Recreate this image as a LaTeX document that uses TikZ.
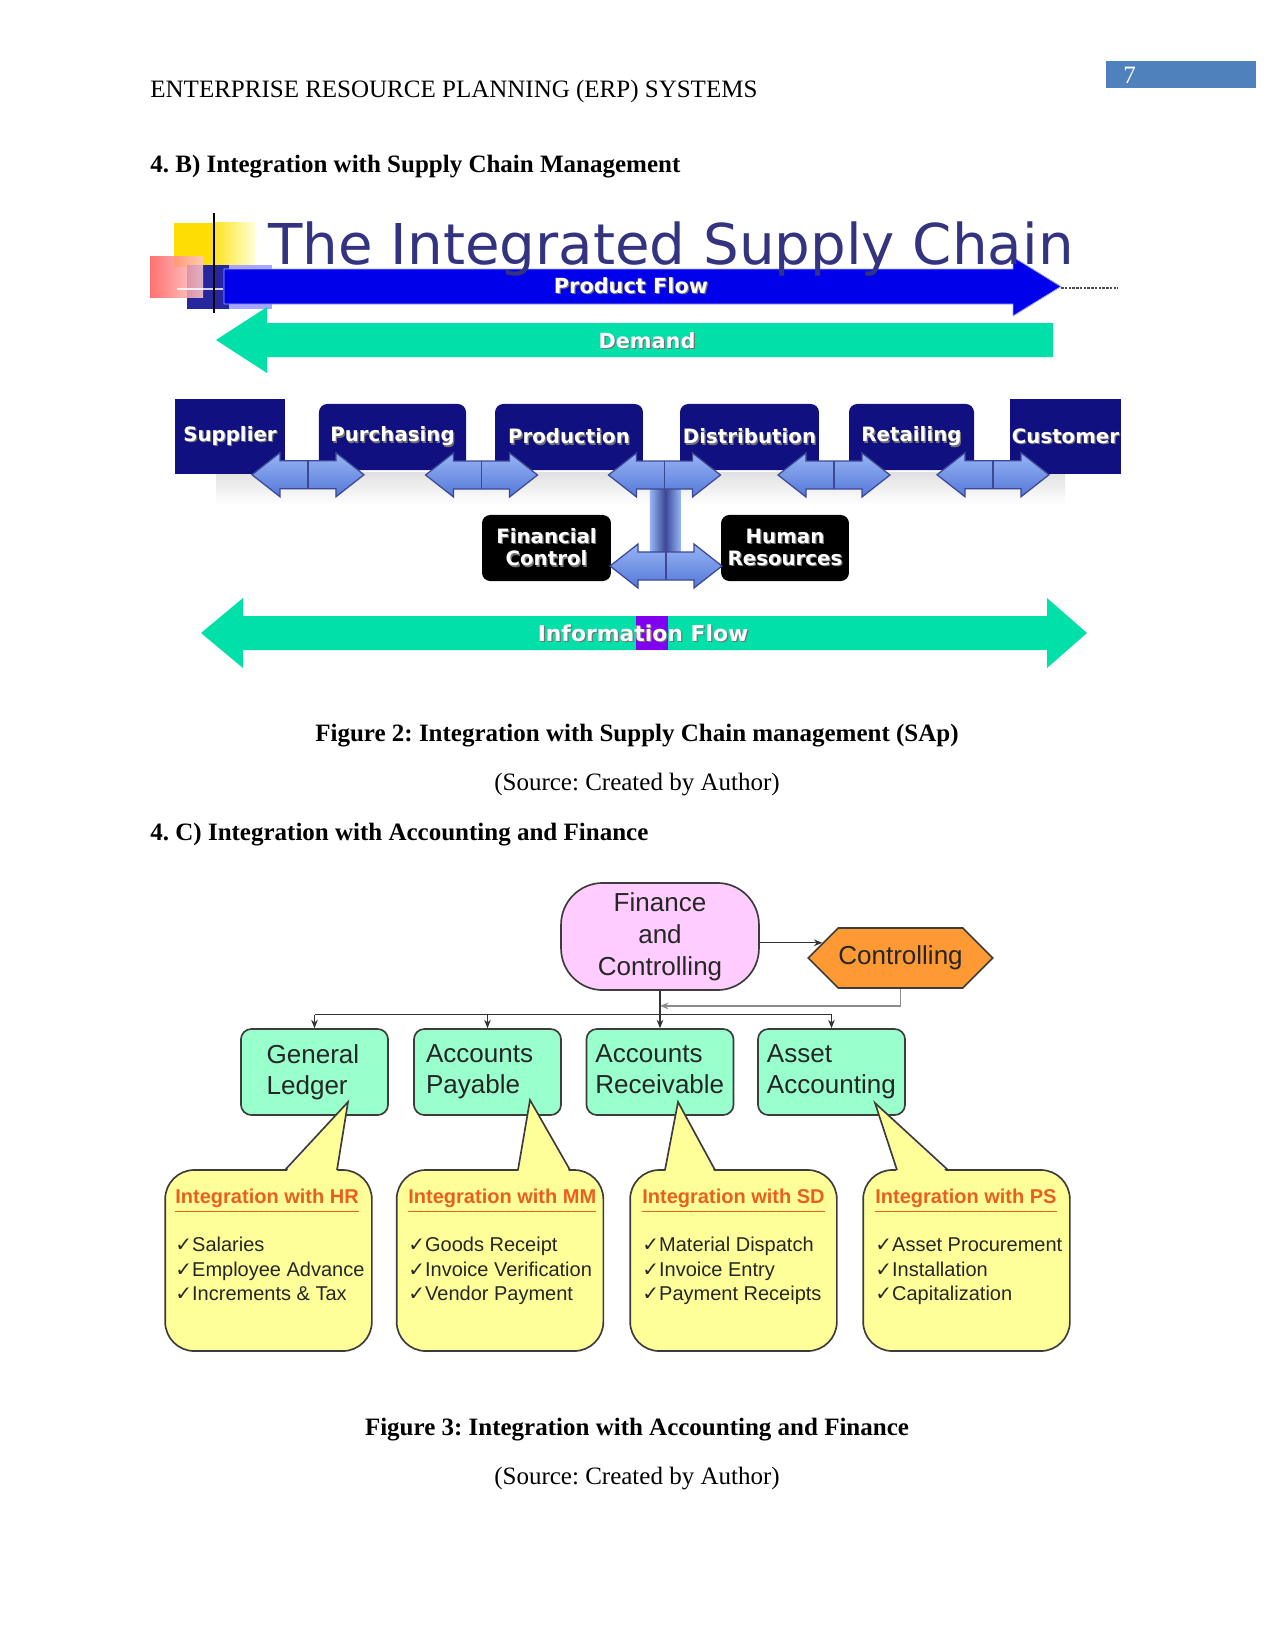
\documentclass[tikz,border=0pt]{standalone}
\usepackage{fontspec}
\setmainfont{Liberation Serif}
\newfontfamily\arialfont{Liberation Sans}
\newfontfamily\verdfont{DejaVu Sans}
\usetikzlibrary{arrows.meta,calc,shapes.symbols}

\definecolor{pagebox}{RGB}{79,129,189}
\definecolor{titleblue}{RGB}{51,51,128}
\definecolor{navybox}{RGB}{16,16,128}
\definecolor{flowblue}{RGB}{0,0,235}
\definecolor{flowteal}{RGB}{0,224,168}
\definecolor{infopurple}{RGB}{130,0,240}
\definecolor{arrowtop}{RGB}{150,180,245}
\definecolor{arrowbot}{RGB}{85,120,215}
\definecolor{arrowedge}{RGB}{60,72,150}
\definecolor{finpink}{RGB}{255,204,255}
\definecolor{ctrlorange}{RGB}{255,153,51}
\definecolor{glgreen}{RGB}{153,255,204}
\definecolor{callyellow}{RGB}{255,255,153}
\definecolor{callhead}{RGB}{235,95,30}
\definecolor{edgegray}{RGB}{60,60,60}

\newcommand{\chk}{{\verdfont\symbol{"2713}}}
\newcommand{\shtxt}[1]{\rlap{\kern0.6pt\raisebox{-0.6pt}{\textcolor{black!55}{#1}}}#1}
\newcommand{\blockarrow}[1]{%
  \path[blockarr] ($(#1)+(-56,0)$) -- ++(28,-22) -- ++(0,8) -- ++(56,0) -- ++(0,-8)
    -- ++(28,22) -- ++(-28,22) -- ++(0,-8) -- ++(-56,0) -- ++(0,8) -- cycle;
  \draw[arrowedge, line width=0.6pt] ($(#1)+(0,-14)$) -- ($(#1)+(0,14)$);}
\newcommand{\callptr}[3]{%
  \fill[callyellow] (#1,1173) -- (#3) -- (#2,1173) -- cycle;
  \draw[edgegray, line width=0.8pt] (#1,1170) -- (#3) -- (#2,1170);}

\begin{document}
\frenchspacing
\begin{tikzpicture}[x=0.48pt, y=-0.48pt,
  bodytext/.style={inner sep=0pt, font=\fontsize{12}{14}\selectfont},
  procbox/.style={fill=navybox, text=white, inner sep=0pt,
    font=\verdfont\bfseries\fontsize{9.5}{11.5}\selectfont},
  blackbox/.style={fill=black, text=white, inner sep=0pt, rounded corners=4pt, align=center,
    minimum height=31.7pt, font=\verdfont\bfseries\fontsize{9.5}{10.6}\selectfont},
  blockarr/.style={draw=arrowedge, line width=0.6pt, top color=arrowtop, bottom color=arrowbot},
  flowtext/.style={text=white, inner sep=0pt, font=\verdfont\bfseries\fontsize{10}{12}\selectfont},
  gbox/.style={draw=edgegray, line width=0.8pt, fill=glgreen, rounded corners=5pt,
    minimum width=70.6pt, minimum height=41.3pt, inner sep=0pt, align=left, text width=#1,
    text=black!85, font=\arialfont\fontsize{12.5}{14.9}\selectfont},
  callbox/.style={draw=edgegray, line width=0.8pt, fill=callyellow, rounded corners=14pt,
    minimum width=99.2pt, minimum height=86.9pt},
  calltext/.style={anchor=north west, inner sep=0pt, align=left, text=black!85,
    font=\arialfont\fontsize{9.6}{11.76}\selectfont},
  conn/.style={draw=black!80, line width=0.5pt, -{Stealth[length=4pt,width=3.2pt]}},
  retline/.style={draw=black!45, line width=0.6pt, -{Stealth[length=4pt,width=3.2pt]}},
]
\useasboundingbox[fill=white] (0,0) rectangle (1275,1651);

\node[bodytext, anchor=base west] (hdr) at (150,98) {ENTERPRISE RESOURCE PLANNING (ERP) SYSTEMS};
\fill[pagebox] (1106,61) rectangle (1256,88);
\node[bodytext, anchor=base west, text=white] (pgno) at (1123,84) {7};
\node[bodytext, anchor=base west, font=\bfseries\fontsize{12}{14}\selectfont] (secb) at (150,173)
  {4. B) Integration with Supply Chain Management};

\fill[yellow!80!orange] (174,223) rectangle (213,267);
\shade[left color=yellow!75!orange!90, right color=yellow!15] (213,223) rectangle (255,267);
\fill[blue!35!white] (228,265) rectangle (272,309);
\fill[blue!55!black!85] (187,265) rectangle (229,309);
\shade[left color=red!65, right color=red!20, opacity=0.85] (150,257) rectangle (203,297);
\draw[white, opacity=0.8, line width=1pt] (177,289) -- (223,289);
\draw[black, line width=1pt] (214,213) -- (214,313);

\path[fill=flowblue, draw=blue!35!white, line width=0.4pt] (224,269) -- (1013,269) -- (1013,257)
  -- (1061,286.5) -- (1013,316) -- (1013,304) -- (224,304) -- cycle;
\draw[black!70, line width=0.6pt, dash pattern=on 1.2pt off 0.6pt] (1061,288) -- (1118,288);
\node[anchor=base west, inner sep=0pt, text=titleblue, font=\verdfont\fontsize{27}{30}\selectfont] (ttl)
  at (268,265) {The Integrated Supply Chain};
\node[flowtext] (pflow) at (631,286) {\shtxt{Product Flow}};

\path[fill=flowteal] (1053,323) -- (267,323) -- (267,307) -- (216,340) -- (267,373)
  -- (267,357) -- (1053,357) -- cycle;
\node[flowtext] (dmd) at (647,341) {\shtxt{Demand}};

\shade[top color=black!12, bottom color=white] (216,472) rectangle (1065,505);
\node[procbox, minimum width=52.8pt, minimum height=36pt] (sup) at (230,436.5) {\shtxt{Supplier}};
\node[procbox, rounded corners=4pt, minimum width=70.6pt, minimum height=31.7pt] (pur) at (392.5,437) {\shtxt{Purchasing}};
\node[procbox, rounded corners=4pt, minimum width=71pt, minimum height=31.7pt] (prod) at (569,437) {\shtxt{Production}};
\node[procbox, rounded corners=4pt, minimum width=66.7pt, minimum height=31.7pt] (dist) at (749.5,437) {\shtxt{Distribution}};
\node[procbox, rounded corners=4pt, minimum width=60pt, minimum height=31.7pt] (ret) at (911.5,437) {\shtxt{Retailing}};
\node[procbox, minimum width=53.3pt, minimum height=36pt] (cus) at (1065.5,436.5) {\shtxt{Customer}};

\node[blackbox, minimum width=61.9pt] (fin) at (546.5,548) {\shtxt{Financial}\\\shtxt{Control}};
\node[blackbox, minimum width=61.4pt] (hr) at (785,548) {\shtxt{Human}\\\shtxt{Resources}};

\coordinate (supur) at ($(sup.east)!0.5!(pur.west)+(6,38)$);
\coordinate (purpro) at ($(pur.east)!0.5!(prod.west)+(1,38)$);
\coordinate (prodis) at ($(prod.east)!0.5!(dist.west)+(3,38)$);
\coordinate (disret) at ($(dist.east)!0.5!(ret.west)+(0,38)$);
\coordinate (retcus) at ($(ret.east)!0.5!(cus.west)+(1,38)$);
\coordinate (finhr) at ($(fin.east)!0.5!(hr.west)+(0,18)$);

\shade[left color=arrowtop, right color=arrowtop, middle color=arrowedge]
  ($(prodis)+(-14.5,0)$) rectangle ($(finhr)+(14.5,0)$);
\foreach \a in {supur,purpro,prodis,disret,retcus,finhr}
  {\blockarrow{\a}}

\path[fill=flowteal] (201,633) -- (243,598) -- (243,616) -- (1047,616) -- (1047,598) -- (1087,633)
  -- (1047,668) -- (1047,650) -- (243,650) -- (243,668) -- cycle;
\fill[infopurple] (636,616) rectangle (668,650);
\node[flowtext, font=\verdfont\bfseries\fontsize{10.5}{12}\selectfont] (iflow) at (643,634) {\shtxt{Information Flow}};

\node[bodytext, anchor=base, font=\bfseries\fontsize{12}{14}\selectfont] (figtwo) at (637,741)
  {Figure 2: Integration with Supply Chain management (SAp)};
\node[bodytext, anchor=base] (srctwo) at (637,790) {(Source: Created by Author)};
\node[bodytext, anchor=base west, font=\bfseries\fontsize{12}{14}\selectfont] (secc) at (150,840)
  {4. C) Integration with Accounting and Finance};

\node[draw=edgegray, line width=0.8pt, fill=finpink, rounded corners=20pt, minimum width=95pt,
  minimum height=51.4pt, align=center, text=black!85, font=\arialfont\fontsize{12.5}{15.4}\selectfont]
  (fc) at (660,936.5) {Finance\\and\\Controlling};
\node[signal, signal to=east and west, draw=edgegray, line width=0.8pt, fill=ctrlorange,
  minimum width=87.4pt, minimum height=28.8pt, inner sep=0pt, text=black!85,
  font=\arialfont\fontsize{12.5}{15}\selectfont] (ctrl) at (900.5,958) {Controlling};

\node[gbox=46pt] (gl) at (314.5,1072) {General\\Ledger};
\node[gbox=59pt] (ap) at (487.5,1072) {Accounts\\Payable};
\node[gbox=62pt] (ar) at (660,1072) {Accounts\\Receivable\vphantom{g}};
\node[gbox=62pt] (aa) at (831.5,1072) {Asset\\Accounting};

\coordinate (bus) at ([yshift=-11.5pt]fc.south);
\coordinate (retpt) at ([yshift=-8.2pt]ctrl.south);
\draw[conn] (fc.east |- ctrl.169) -- (ctrl.169);
\draw[retline] (ctrl.south) -- (retpt) -- (retpt -| fc.south);
\draw[draw=black!80, line width=0.5pt] (fc.south) -- (bus);
\draw[draw=black!80, line width=0.5pt] (bus -| gl.north) -- (bus -| aa.north);
\foreach \b in {gl,ap,ar,aa}
  \draw[conn] (bus -| \b.north) -- (\b.north);

\node[callbox] (hrc) at (268.5,1260.5) {};
\node[callbox] (mmc) at (500,1260.5) {};
\node[callbox] (sdc) at (733.5,1260.5) {};
\node[callbox] (psc) at (966.5,1260.5) {};

\coordinate (hrtip) at (348,1102);
\coordinate (mmtip) at (530,1100);
\coordinate (sdtip) at (678,1102);
\coordinate (pstip) at (875,1103);
\callptr{285}{337}{hrtip}
\callptr{518}{570}{mmtip}
\callptr{665}{715}{sdtip}
\callptr{897}{948}{pstip}

\node[calltext] (hrtxt) at (175,1189) {\textcolor{callhead}{\bfseries\underline{Integration with HR}}\\[11.3pt]
  \chk Salaries\\\chk Employee Advance\\\chk Increments \& Tax};
\node[calltext] (mmtxt) at (408,1189) {\textcolor{callhead}{\bfseries\underline{Integration with MM}}\\[11.3pt]
  \chk Goods Receipt\\\chk Invoice Verification\\\chk Vendor Payment};
\node[calltext] (sdtxt) at (642,1189) {\textcolor{callhead}{\bfseries\underline{Integration with SD}}\\[11.3pt]
  \chk Material Dispatch\\\chk Invoice Entry\\\chk Payment Receipts};
\node[calltext] (pstxt) at (875,1189) {\textcolor{callhead}{\bfseries\underline{Integration with PS}}\\[11.3pt]
  \chk Asset Procurement\\\chk Installation\\\chk Capitalization};

\node[bodytext, anchor=base, font=\bfseries\fontsize{12}{14}\selectfont] (figthree) at (637,1435)
  {Figure 3: Integration with Accounting and Finance};
\node[bodytext, anchor=base] (srcthree) at (637,1484) {(Source: Created by Author)};
\end{tikzpicture}
\end{document}
